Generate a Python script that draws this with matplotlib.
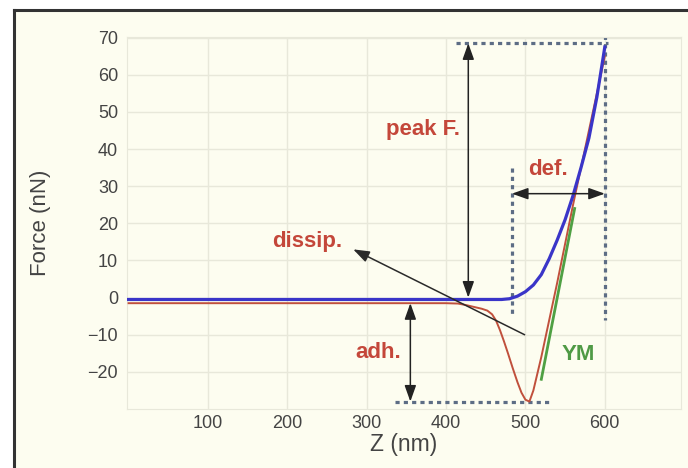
import matplotlib.pyplot as plt
from matplotlib.patches import Rectangle
from matplotlib.lines import Line2D

# approach curve (blue)
z_approach = [0, 100, 200, 300, 400, 470, 480, 490, 500, 510, 520, 530, 540, 550, 560, 570, 580, 590, 600]
f_approach = [-0.5, -0.5, -0.5, -0.5, -0.5, -0.5, -0.3, 0.4, 1.6, 3.4, 6.2, 10.5, 15.5, 21, 27.5, 35, 43, 54, 67.5]

# retract curve (red)
z_retract = [0, 100, 200, 300, 400, 415, 425, 435, 445, 452, 458, 463, 468, 473, 478, 484, 490,
             495, 500, 505, 510, 520, 530, 540, 550, 560, 570, 580, 590, 600]
f_retract = [-1.5, -1.5, -1.5, -1.5, -1.5, -1.6, -2.0, -2.5, -3.0, -3.5, -4.5, -6.2, -8.8, -11.8, -15.0, -19, -22.8,
             -25.6, -27.5, -28, -25, -16, -6, 4, 14.5, 25, 35, 45, 55, 65]

# tangent lines: dissipation and Young's modulus
z_dissip = [499, 283]
f_dissip = [-10, 13]
z_ym = [520, 562]
f_ym = [-22, 24]

x_ticks = [100, 200, 300, 400, 500, 600]
y_ticks = [-20, -10, 0, 10, 20, 30, 40, 50, 60, 70]

peak_force = 68.5
min_force = -28
contact_z = 483
max_z = 600
def_level = 28

cream = '#fdfdf0'
red_txt = '#c4473a'
grey_txt = '#444444'
dot_col = '#5d6d85'
dotted = (0, (1.3, 1.3))

plt.rcParams['font.family'] = ['Liberation Sans', 'DejaVu Sans']

fig = plt.figure(figsize=(6.88, 4.68), dpi=100, facecolor='white')
fig.patches.append(Rectangle((14 / 688, 0), 1, 1 - 10 / 468, transform=fig.transFigure,
                             facecolor=cream, edgecolor='none', zorder=-10))
fig.lines.append(Line2D([14 / 688, 1], [1 - 10 / 468, 1 - 10 / 468], transform=fig.transFigure,
                        color='#333333', lw=2.2))
fig.lines.append(Line2D([14 / 688, 14 / 688], [0, 1 - 10 / 468], transform=fig.transFigure,
                        color='#333333', lw=2.2))

ax = fig.add_axes([127 / 688, 1 - 409 / 468, (681 - 127) / 688, (409 - 37) / 468])
ax.set_facecolor(cream)
ax.set_xlim(-2, 696)
ax.set_ylim(-30, 70.2)
ax.set_xticks(x_ticks)
ax.set_yticks(y_ticks)
ax.tick_params(length=0, labelsize=13, labelcolor=grey_txt)
ax.tick_params(axis='x', pad=4)
ax.tick_params(axis='y', pad=6.5)
ax.grid(True, color='#e8e8da', lw=1)
for s in ax.spines.values():
    s.set_color('#e8e8da')
ax.set_xlabel('Z (nm)', fontsize=16.5, color=grey_txt, labelpad=1)
ax.set_ylabel('Force (nN)', fontsize=16, color=grey_txt, labelpad=26)

# curves
ax.plot(z_retract, f_retract, color='#c0503c', lw=1.4, zorder=3)
ax.plot(z_ym, f_ym, color='#4fa043', lw=2, zorder=3)
ax.plot(z_approach, f_approach, color='#3a35c8', lw=2.3, zorder=4)

# dotted guide lines
ax.plot([412, 604], [peak_force, peak_force], color=dot_col, lw=2.3, ls=dotted, zorder=2)
ax.plot([max_z, max_z], [73, -6], color=dot_col, lw=2.3, ls=dotted, zorder=2)
ax.plot([contact_z, contact_z], [35, -4.6], color=dot_col, lw=2.3, ls=dotted, zorder=2)
ax.plot([336, 533], [min_force, min_force], color=dot_col, lw=2.3, ls=dotted, zorder=2)

arrow = dict(arrowstyle='<|-|>,head_length=0.7,head_width=0.25', color='#222222', lw=1.1,
             mutation_scale=14, shrinkA=0, shrinkB=0)
ax.annotate('', xy=(428, peak_force), xytext=(428, 0), arrowprops=arrow, zorder=5)
ax.annotate('', xy=(contact_z, def_level), xytext=(max_z, def_level), arrowprops=arrow, zorder=5)
ax.annotate('', xy=(355, -1.5), xytext=(355, min_force), arrowprops=arrow, zorder=5)
ax.annotate('', xy=(z_dissip[1], f_dissip[1]), xytext=(z_dissip[0], f_dissip[0]),
            arrowprops=dict(arrowstyle='-|>,head_length=0.7,head_width=0.25', color='#2a2a2a', lw=1.1,
                            mutation_scale=14, shrinkA=0, shrinkB=0), zorder=5)

lab = dict(fontsize=16, fontweight='bold', color=red_txt, va='center')
ax.text(417, 45.2, 'peak F.', ha='right', **lab)
ax.text(529, 34.6, 'def.', ha='center', **lab)
ax.text(225, 15, 'dissip.', ha='center', **lab)
ax.text(314, -14.7, 'adh.', ha='center', **lab)
ax.text(567, -15.3, 'YM', ha='center', fontsize=16, fontweight='bold', color='#4f9a45', va='center')

fig.savefig('out.png', dpi=100, facecolor=fig.get_facecolor())
